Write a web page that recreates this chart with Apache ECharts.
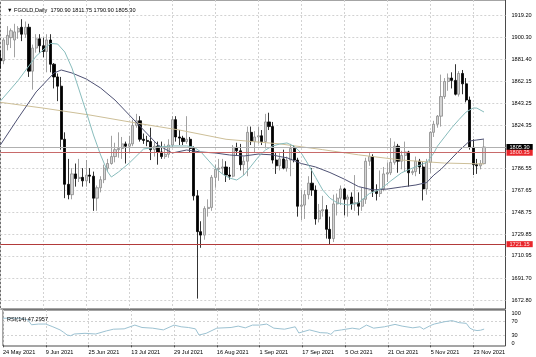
<!DOCTYPE html>
<html><head><meta charset="utf-8">
<script src="https://cdn.jsdelivr.net/npm/echarts@6/dist/echarts.min.js"></script>
<style>html,body{margin:0;padding:0;background:#fff}#c{width:536px;height:357px}</style>
</head><body><div id="c"></div>
<script>
const symbolName = 'FGOLD,Daily';
const opens  = [1882,1880,1894,1900,1898,1905,1909,1903,1909,1871,1891,1899,1893,1888,1898,1877,1866,1858,1812,1773,1764,1782,1778,1779,1776,1781,1780,1761,1770,1777,1787,1791,1797,1803,1804,1808,1806,1808,1824,1828,1812,1811,1810,1803,1806,1801,1797,1799,1807,1829,1814,1813,1810,1812,1804,1763,1732,1729,1752,1753,1779,1786,1787,1788,1781,1780,1805,1802,1790,1793,1818,1810,1814,1815,1810,1827,1823,1794,1789,1795,1787,1794,1804,1794,1754,1755,1764,1774,1768,1743,1750,1751,1734,1726,1756,1761,1769,1760,1762,1756,1757,1754,1760,1793,1797,1767,1765,1769,1782,1783,1792,1806,1793,1798,1801,1783,1784,1793,1788,1769,1792,1818,1825,1832,1849,1862,1865,1863,1851,1869,1860,1846,1805,1790,1789,1790.90];
const highs  = [1889,1900,1910,1908,1912,1910,1916,1914,1912,1894,1903,1903,1900,1903,1903,1878,1869,1866,1818,1795,1787,1791,1795,1787,1794,1787,1784,1772,1780,1790,1795,1815,1809,1818,1814,1810,1815,1829,1834,1832,1817,1815,1822,1810,1810,1810,1808,1812,1832,1832,1820,1815,1832,1814,1806,1768,1741,1754,1760,1781,1790,1795,1795,1793,1788,1807,1809,1808,1797,1823,1823,1819,1823,1820,1834,1835,1827,1801,1800,1803,1797,1808,1807,1796,1768,1768,1780,1787,1772,1756,1763,1755,1745,1764,1765,1772,1770,1764,1766,1781,1766,1770,1796,1801,1799,1773,1785,1788,1792,1813,1810,1808,1802,1810,1802,1786,1797,1795,1792,1795,1819,1828,1833,1868,1865,1869,1870,1877,1871,1872,1865,1849,1812,1795,1794,1811.75];
const lows   = [1873,1877,1889,1891,1883,1899,1897,1900,1866,1855,1887,1887,1883,1870,1870,1856,1845,1803,1761,1760,1760,1771,1775,1771,1771,1774,1750,1750,1766,1774,1784,1790,1792,1796,1795,1791,1800,1806,1822,1810,1808,1806,1794,1797,1790,1795,1795,1796,1805,1810,1807,1807,1808,1801,1759,1674,1718,1725,1745,1750,1770,1776,1782,1775,1777,1779,1798,1785,1781,1780,1807,1800,1808,1807,1804,1820,1791,1782,1785,1786,1784,1780,1792,1745,1742,1743,1760,1763,1738,1740,1745,1726,1721.15,1723,1746,1755,1746,1745,1751,1750,1746,1750,1756,1789,1762,1759,1762,1767,1775,1781,1790,1783,1786,1784,1771,1781,1780,1782,1759,1764,1783,1814,1822,1823,1847,1854,1856,1850,1849,1851,1844,1803,1781,1782,1786,1790.90];
const closes = [1880,1898,1902,1906,1905,1908,1903,1909,1871,1891,1899,1893,1888,1898,1877,1866,1858,1812,1773,1764,1782,1778,1779,1776,1781,1780,1761,1770,1777,1787,1791,1797,1803,1804,1808,1806,1808,1824,1828,1812,1811,1810,1803,1806,1801,1797,1799,1807,1829,1814,1813,1810,1812,1804,1763,1732,1729,1752,1753,1779,1786,1787,1788,1781,1780,1805,1802,1790,1793,1818,1810,1814,1815,1810,1827,1823,1794,1789,1795,1787,1794,1804,1794,1754,1755,1764,1774,1768,1743,1750,1751,1734,1726,1756,1761,1769,1760,1762,1756,1757,1754,1760,1793,1797,1767,1765,1769,1782,1783,1792,1806,1793,1798,1801,1783,1784,1793,1788,1769,1792,1818,1825,1832,1849,1862,1865,1863,1851,1869,1860,1846,1805,1790,1789,1790.90,1805.30];

// moving averages: [bar index, value]
const maFast = [[0,1845],[5,1863],[10,1884],[14,1895],[16,1894.5],[18,1887.6],[20,1873.7],[22,1854.7],[24,1835.6],[26,1815.7],[28,1798.4],[30,1783.7],[31,1779.3],[33,1783.7],[36,1791.4],[40,1803.6],[44,1805.3],[48,1806.2],[52,1806.2],[54,1805.3],[56,1801],[58,1794],[60,1787.1],[62,1781.9],[64,1778.4],[66,1776.7],[68,1781],[70,1788.8],[72,1796.6],[74,1802.7],[76,1806.2],[78,1807.9],[80,1808.8],[82,1806],[84,1800],[86,1790],[88,1779],[90,1768],[92,1761],[94,1757],[97,1755],[100,1757],[103,1765],[106,1768.5],[109,1776],[112,1783],[115,1787],[119,1792],[121,1800],[122,1806],[124,1814],[126,1822],[128,1829],[130,1835.6],[132,1839.1],[133,1839],[135,1835.6]];
const maMid = [[0,1807],[5,1830.4],[10,1853],[15,1869.4],[17,1872],[20,1869.4],[24,1864.2],[28,1856.4],[32,1846],[36,1833],[40,1820],[44,1807],[48,1800.1],[52,1802.7],[56,1801],[60,1800.1],[64,1798.4],[68,1797.5],[72,1799.2],[76,1798.5],[78,1797],[80,1796],[84,1791],[88,1788],[92,1783.2],[96,1777.5],[100,1771],[104,1768.1],[108,1768.9],[112,1770.7],[116,1772.4],[119,1774.5],[121,1781],[123,1786],[125,1792.3],[128,1802],[131,1810.5],[133,1811.4],[135,1812.2]];
const maSlow = [[0,1844],[12,1839],[25,1833],[38,1826],[50,1820],[63,1812],[78,1808],[90,1803],[100,1798.5],[112,1794],[124,1791.4],[135,1790.6]];
const rsiPoints = [[0,79],[3,79],[5,79],[7,74],[8,60],[10,62],[12,62],[14,54],[16,45],[17,38],[18,30],[19,28],[20,33],[23,35],[26,33],[29,42],[31,47],[34,48],[37,59],[39,52],[42,50],[45,45],[48,59],[50,54],[52,52],[54,48],[55,30],[57,35],[60,50],[64,52],[66,56],[68,51],[70,59],[72,59],[74,62],[76,50],[79,47],[82,54],[83,36],[86,45],[89,37],[91,36],[92,32],[93,42],[95,45],[98,50],[100,47],[102,59],[104,50],[107,54],[110,61],[112,56],[115,51],[117,54],[118,47],[120,58],[121,62],[124,69],[126,72],[128,66],[130,64],[131,50],[132,45],[133,43],[134,44],[135,47.3]];
const rsiLast = '47.2957';

const dateTickIndex  = [0,12,24,36,48,60,72,84,96,108,120,132];
const dateTickLabels = ['24 May 2021','9 Jun 2021','25 Jun 2021','13 Jul 2021','29 Jul 2021','16 Aug 2021','1 Sep 2021','17 Sep 2021','5 Oct 2021','21 Oct 2021','5 Nov 2021','23 Nov 2021'];
const priceGridTicks  = [1672.80,1691.70,1710.95,1729.85,1748.75,1767.65,1786.55,1805.45,1824.35,1843.25,1862.15,1881.40,1900.30,1919.20];
const priceLabelTicks = [1672.80,1691.70,1710.95,1729.85,1748.75,1767.65,1786.55,1824.35,1843.25,1862.15,1881.40,1900.30,1919.20];
const rsiLabelTicks = [0,30,70,100];
const rsiLevelTicks = [30,70];
const hLines = [1800.35, 1721.15];

const SLOTS = 142;
const cats = Array.from({length: SLOTS}, (_, i) => i);
const candles = opens.map((o, i) => [o, closes[i], lows[i], highs[i]]);
const last = opens.length - 1;
const FONT = "'Liberation Sans',Arial,sans-serif";
const FS = 5.6;
const GRID = '#d2d2d2';
const FRAME = '#4a4a4a';
const f2 = v => Number(v).toFixed(2);

const chart = echarts.init(document.getElementById('c'));
const showIdx = (i) => dateTickIndex.indexOf(i) >= 0;
chart.setOption({
  animation: false,
  backgroundColor: '#fff',
  title: [
    {text: '\u25BC ' + symbolName + '  ' + [opens[last], highs[last], lows[last], closes[last]].map(f2).join(' '),
     left: 2, top: 2, textStyle: {fontSize: FS, fontWeight: 'normal', color: '#000', fontFamily: FONT}},
    {text: 'RSI(14) ' + rsiLast, left: 2, top: 311,
     textStyle: {fontSize: FS, fontWeight: 'normal', color: '#000', fontFamily: FONT}}
  ],
  grid: [
    {left: 0.3, top: 0, width: 505.2, height: 309, show: true, borderColor: FRAME, borderWidth: 1},
    {left: 0.3, top: 310, width: 505.2, height: 36, show: true, borderColor: FRAME, borderWidth: 1}
  ],
  xAxis: [
    {type: 'category', gridIndex: 0, data: cats, boundaryGap: false,
     axisLine: {show: false}, axisTick: {show: false}, axisLabel: {show: false},
     splitLine: {show: true, interval: showIdx, lineStyle: {color: GRID, type: [2, 2], width: 1}}},
    {type: 'category', gridIndex: 1, data: cats, boundaryGap: false,
     axisLine: {show: false},
     axisTick: {show: true, interval: showIdx, length: 2, lineStyle: {color: FRAME}},
     axisLabel: {show: true, interval: showIdx, align: 'left', margin: 3,
       formatter: (v, i) => dateTickLabels[dateTickIndex.indexOf(i)] || '',
       fontSize: FS, fontFamily: FONT, color: '#000'},
     splitLine: {show: true, interval: showIdx, lineStyle: {color: GRID, type: [2, 2], width: 1}}}
  ],
  yAxis: [
    {type: 'value', gridIndex: 0, position: 'right', min: 1665.0, max: 1932.62,
     axisLine: {show: false},
     axisTick: {show: false, customValues: priceGridTicks},
     axisLabel: {customValues: priceLabelTicks, formatter: f2, margin: 6,
       fontSize: FS, fontFamily: FONT, color: '#000'},
     splitLine: {show: true, lineStyle: {color: GRID, type: [2, 2], width: 1}}},
    {type: 'value', gridIndex: 1, position: 'right', min: -2, max: 103,
     axisLine: {show: false},
     axisTick: {show: false, customValues: rsiLevelTicks},
     axisLabel: {customValues: rsiLabelTicks, margin: 6, hideOverlap: false,
       showMinLabel: true, showMaxLabel: true,
       formatter: v => v === 100 ? '{t|100}' : (v === 0 ? '{b|0}' : String(v)),
       rich: {t: {padding: [5, 0, 0, 0], fontSize: FS, fontFamily: FONT, color: '#000'},
              b: {padding: [0, 0, 4, 0], fontSize: FS, fontFamily: FONT, color: '#000'}},
       fontSize: FS, fontFamily: FONT, color: '#000'},
     splitLine: {show: true, lineStyle: {color: GRID, type: [2, 2], width: 1}}}
  ],
  series: [
    {type: 'candlestick', name: symbolName, xAxisIndex: 0, yAxisIndex: 0, data: candles,
     barWidth: 2.6,
     itemStyle: {color: '#d4d4d4', color0: '#000', borderColor: '#8a8a8a', borderColor0: '#000', borderWidth: 0.8},
     markLine: {silent: true, symbol: ['none', 'none'], animation: false,
       label: {position: 'end', distance: 1, fontSize: FS, fontFamily: FONT, padding: [0, 3, 0, 3], lineHeight: 6,
               formatter: p => f2(p.value)},
       data: [
         {yAxis: closes[last], lineStyle: {color: '#b0b0b0', width: 1, type: 'solid'},
          label: {backgroundColor: '#000', color: '#fff'}},
         {yAxis: hLines[0], lineStyle: {color: '#c86a6a', width: 1, type: 'solid'},
          label: {backgroundColor: '#e8262b', color: '#ffd6d6'}},
         {yAxis: hLines[1], lineStyle: {color: '#b23a3a', width: 1, type: 'solid'},
          label: {backgroundColor: '#e8262b', color: '#ffe0e0'}}
       ]}},
    {type: 'line', xAxisIndex: 0, yAxisIndex: 0, data: maSlow, symbol: 'none', z: 3,
     lineStyle: {color: '#cdbf98', width: 1}},
    {type: 'line', xAxisIndex: 0, yAxisIndex: 0, data: maMid, symbol: 'none', z: 3,
     lineStyle: {color: '#4e5173', width: 1}},
    {type: 'line', xAxisIndex: 0, yAxisIndex: 0, data: maFast, symbol: 'none', z: 3,
     lineStyle: {color: '#88bcbc', width: 1}},
    {type: 'line', xAxisIndex: 1, yAxisIndex: 1, data: rsiPoints, symbol: 'none',
     lineStyle: {color: '#9cc2d2', width: 1}}
  ]
});
</script>
</body></html>
